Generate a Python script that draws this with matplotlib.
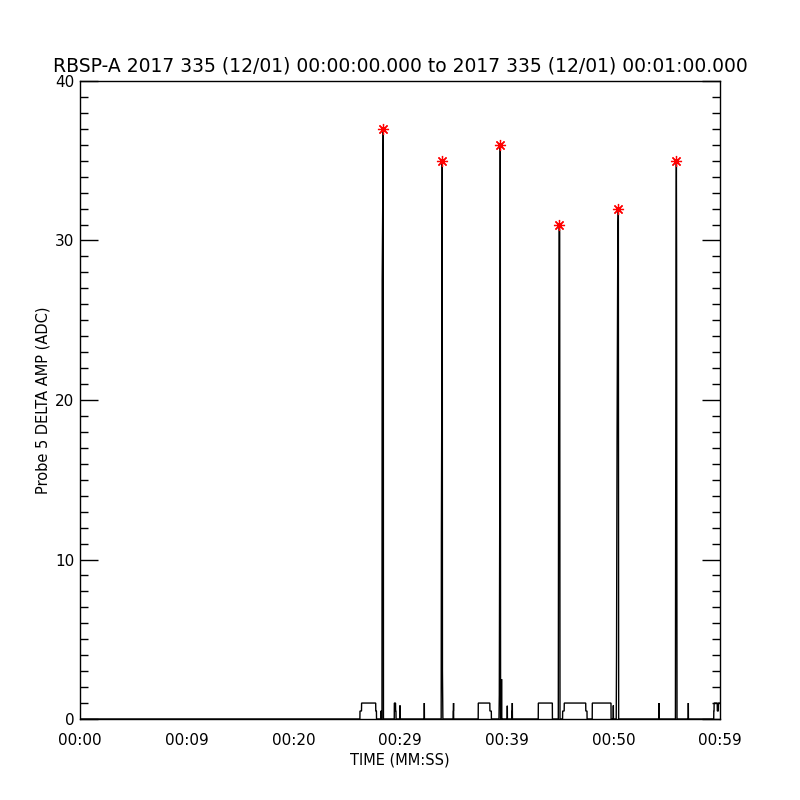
import matplotlib
matplotlib.use("Agg")
import matplotlib.pyplot as plt
from matplotlib.ticker import MultipleLocator, FixedLocator

# ---- data (time in seconds after 00:00:00, amplitude in ADC) ----
time_s = [
    0.00, 26.24, 26.25, 26.39, 26.40, 27.72, 27.73, 27.79, 27.80,
    28.20, 28.21, 28.23, 28.24,
    28.31, 28.33, 28.43, 28.45,
    29.46, 29.47, 29.58, 29.59, 29.62, 29.63,
    29.99, 30.00, 30.01,
    32.27, 32.28, 32.29,
    33.86, 33.88, 33.92, 33.96, 33.98, 34.02,
    34.98, 34.99, 35.01, 35.02, 35.03,
    37.33, 37.34, 38.42, 38.43, 38.56, 38.57,
    39.28, 39.31, 39.35, 39.38, 39.40, 39.43,
    39.51, 39.52, 39.53,
    40.05, 40.06, 40.07,
    40.49, 40.50, 40.52, 40.53, 40.54,
    42.96, 42.97, 44.28, 44.29,
    44.84, 44.87, 44.91, 44.94, 44.97, 45.00,
    45.24, 45.25, 45.39, 45.40, 47.41, 47.42, 47.53, 47.54,
    48.02, 48.03, 49.78, 49.79,
    49.99, 50.00, 50.01,
    50.27, 50.30, 50.35, 50.42, 50.47, 50.50,
    54.25, 54.26, 54.27, 54.28, 54.29,
    55.82, 55.84, 55.88, 55.91, 55.93, 55.97,
    57.02, 57.03, 57.04,
    59.41, 59.42, 59.44, 59.45, 59.74, 59.75, 59.84, 59.85, 60.00,
]
amp_adc = [
    0, 0, 0.5, 0.5, 1, 1, 0.5, 0.5, 0,
    0, 0.5, 0.5, 0,
    0, 27.5, 37, 0,
    0, 1, 1, 0.5, 0.5, 0,
    0, 0.85, 0,
    0, 1, 0,
    0, 11.5, 20.5, 35, 3, 0,
    0, 0.5, 0.5, 1, 0,
    0, 1, 1, 0.5, 0.5, 0,
    0, 1.5, 13, 24.5, 36, 0,
    0, 2.5, 0,
    0, 0.83, 0,
    0, 0.5, 0.5, 1, 0,
    0, 1, 1, 0,
    0, 17, 30.5, 31, 30.5, 0,
    0, 0.5, 0.5, 1, 1, 0.5, 0.5, 0,
    0, 1, 1, 0,
    0, 0.85, 0,
    0, 4, 17.5, 30.5, 32, 0,
    0, 0.5, 0.5, 1, 0,
    0, 11.5, 29, 35, 29, 0,
    0, 1, 0,
    0, 0.5, 0.5, 1, 1, 0.5, 0.5, 1, 1,
]

# peak markers
peak_t = [28.43, 33.96, 39.40, 44.94, 50.47, 55.91]
peak_v = [37, 35, 36, 31, 32, 35]

xtick_pos = [0, 10, 20, 30, 40, 50, 60]
xtick_labels = ["00:00", "00:09", "00:20", "00:29", "00:39", "00:50", "00:59"]
ytick_pos = [0, 10, 20, 30, 40]

title = "RBSP-A 2017 335 (12/01) 00:00:00.000 to 2017 335 (12/01) 00:01:00.000"

plt.rcParams['font.family'] = ['DejaVu Sans']
fig = plt.figure(figsize=(8, 8), dpi=100)
ax = fig.add_axes([0.1, 0.10125, 0.8, 0.7975])

ax.plot(time_s, amp_adc, color='black', lw=1.0, solid_joinstyle='miter')
ax.plot(peak_t, peak_v, linestyle='none', marker=(8, 2, 0), markersize=8,
        color='red', markeredgewidth=0.9)

ax.set_xlim(0, 60)
ax.set_ylim(0, 40)

ax.xaxis.set_major_locator(FixedLocator(xtick_pos))
ax.set_xticklabels(xtick_labels)
ax.yaxis.set_major_locator(FixedLocator(ytick_pos))
ax.yaxis.set_minor_locator(MultipleLocator(1))

ax.tick_params(axis='x', which='both', length=0, pad=10, labelsize=11)
ax.tick_params(axis='y', which='major', direction='in', length=13, width=1,
               left=True, right=True, pad=4, labelsize=11)
ax.tick_params(axis='y', which='minor', direction='in', length=6, width=1,
               left=True, right=True)

for s in ax.spines.values():
    s.set_linewidth(1.0)

ax.set_title(title, fontsize=13.5, pad=7)
ax.set_xlabel("TIME (MM:SS)", fontsize=10.5, labelpad=3)
ax.set_ylabel("Probe 5 DELTA AMP (ADC)", fontsize=10.5, labelpad=3)

fig.savefig("out.png", dpi=100)
